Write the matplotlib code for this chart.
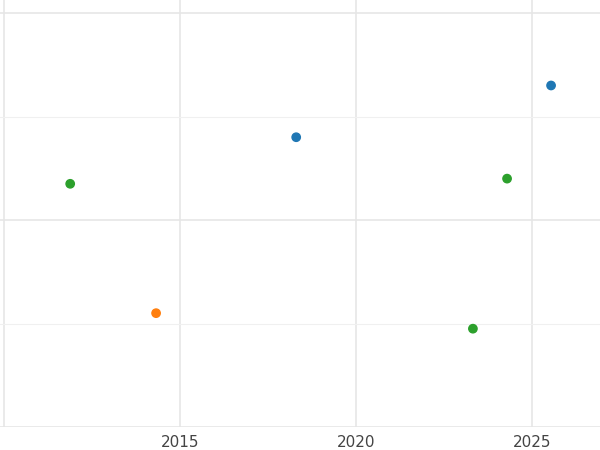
import matplotlib
matplotlib.use("Agg")
import matplotlib.pyplot as plt

# === DATA ===
years = [2011.88, 2014.32, 2018.30, 2023.32, 2024.29, 2025.54]
values = [2.35, 1.10, 2.80, 0.95, 2.40, 3.30]
colors = ['#2ca02c', '#ff7f0e', '#1f77b4', '#2ca02c', '#2ca02c', '#1f77b4']
x_ticks = [2015, 2020, 2025]

fig = plt.figure(figsize=(6, 4.5), dpi=100)
ax = fig.add_axes([0, 1 - 427 / 450, 1, 427 / 450])

ax.scatter(years, values, c=colors, s=36, zorder=3)

ax.set_xlim(2009.886, 2026.93)
ax.set_ylim(0, 4.126)
ax.set_xticks([2010] + x_ticks)
ax.set_xticklabels([''] + [str(t) for t in x_ticks])
ax.set_yticks([0, 2, 4])
ax.set_yticks([1, 3], minor=True)
ax.set_yticklabels([])
ax.grid(True, which='major', color='#e6e6e6', linewidth=1.2)
ax.grid(True, which='minor', axis='y', color='#f0f0f0', linewidth=0.8)
ax.tick_params(which='both', length=0, labelsize=11, labelcolor='#444444', pad=6)
for s in ax.spines.values():
    s.set_visible(False)

fig.savefig('out.png', dpi=100)
